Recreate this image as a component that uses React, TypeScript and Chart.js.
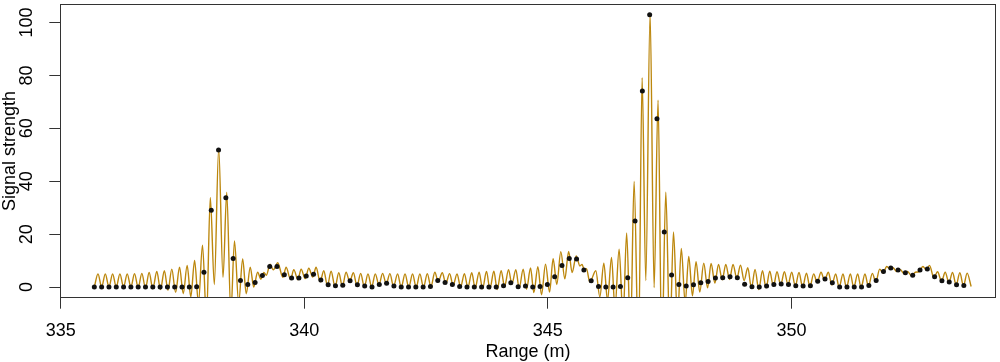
import React, { useEffect, useRef } from "react";
import { Chart, registerables } from "chart.js";

Chart.register(...registerables);

// Range bins (m): first bin and bin spacing
const rangeStart = 335.69;
const rangeStep = 0.15;

// Sampled signal strength, one value per range bin
const signalPoints: number[] = [
  0, 0, 0, 0, 0, 0, 0, 0, 0, 0, 0, 0, 0, 0, 0.1, 5.6, 29.0, 51.8, 33.8, 10.8,
  2.5, 1.0, 1.7, 4.4, 7.8, 7.8, 4.7, 3.4, 3.4, 4.2, 4.9, 2.7, 0.9, 0.5, 0.7, 2.4, 0.9, 0.4, 0, 1.0,
  1.5, 0.4, 0, 0, 0, 0, 0.2, 2.5, 1.7, 1.0, 0.2, 0, 0, 0, 0, 0, 0.5, 1.6, 0.1, 0.4,
  0, 0.2, 1.0, 3.9, 8.2, 10.8, 10.6, 6.5, 2.4, 0.2, 0, 0, 0.2, 3.5, 25.0, 74.1, 102.9, 63.6, 20.8, 4.6,
  1.0, 0.4, 0.9, 1.6, 2.1, 3.4, 3.5, 3.9, 3.5, 1.1, 0.1, 0, 0.4, 1.0, 1.2, 1.0, 0.5, 0.4, 0.5, 2.2,
  3.1, 1.6, 0, 0, 0, 0, 0.6, 2.5, 5.9, 7.2, 6.5, 5.4, 4.5, 6.5, 6.8, 3.9, 2.4, 1.9, 0.9, 0.6,
];

// Interpolated waveform: [position in bins, value] at its turning points
const curveExtrema: [number, number][] = [
  [0, 0], [0.5, 5.0], [1, 0], [1.5, 5.0], [2, 0], [2.5, 5.0], [3, 0], [3.5, 5.0], [4, 0], [4.5, 5.0],
  [5, 0], [5.5, 5.1], [6, -0.2], [6.5, 5.2], [7, -0.4], [7.5, 5.5], [8, -0.6], [8.55, 5.9], [9.05, -0.9],
  [9.58, 6.2], [10.08, -1.2], [10.6, 6.8], [11.12, -2.0], [11.66, 7.5], [12.17, -2.5], [12.7, 8.2],
  [13.2, -3.7], [13.72, 10.1], [14.25, -6], [14.8, 15.8], [15.35, -12], [15.87, 33.9], [16.42, 1.0],
  [17.02, 52.3], [17.61, 3.7], [18.12, 35.9], [18.68, -10], [19.18, 17.4], [19.75, -6], [20.3, 10.6],
  [20.79, -2.5], [21.34, 7.5], [21.81, 0], [22.35, 5.6],
  [22.8, 3.0], [23.2, 5.5], [23.55, 4.5], [24.05, 8.7], [24.5, 6.5], [25.1, 9.2], [25.8, 3.7],
  [26.25, 7.5], [26.85, 2.9], [27.3, 6.6], [27.85, 2.8], [28.3, 6.8], [28.85, 3.2], [29.35, 7.1],
  [29.9, 3.8], [30.35, 7.5], [30.9, 2.0], [31.4, 6.2], [31.9, 0.5], [32.4, 6.0], [32.95, 0.1],
  [33.45, 5.4], [33.95, 0.3], [34.45, 5.6], [34.95, 2.1], [35.45, 5.4], [35.95, 0.5], [36.45, 5.2],
  [36.95, 0.1], [37.45, 5.0],
  [37.95, 0], [38.45, 5.0], [38.95, 0.8], [39.45, 5.2], [39.95, 1.2], [40.45, 5.1], [40.95, 0.2],
  [41.5, 5.0], [42.0, -0.1], [42.52, 5.0], [43.03, -0.1], [43.55, 5.0], [44.05, -0.1], [44.55, 5.0],
  [45.05, -0.1], [45.57, 5.1], [46.06, 0.1], [46.6, 5.6], [47.06, 2.1], [47.62, 5.4], [48.1, 1.4],
  [48.62, 5.1], [49.1, 0.7], [49.64, 5.0], [50.12, 0], [50.65, 5.1], [51.12, -0.2], [51.65, 5.4],
  [52.12, -0.4], [52.66, 5.6], [53.13, -0.6], [53.67, 5.9], [54.13, -0.7], [54.68, 6.0], [55.13, -0.9],
  [55.68, 6.2], [56.14, 0.2], [56.69, 6.6], [57.14, 1.2], [57.69, 6.6], [58.14, -0.5], [58.69, 6.8],
  [59.15, -0.8], [59.7, 7.2], [60.15, -2.1], [60.7, 7.7], [61.2, -2.9], [61.75, 8.7], [62.3, -1.9],
  [62.79, 10.7], [63.29, 1.0], [63.84, 13.4], [64.39, 3.1], [64.91, 13.5], [65.39, 5.5], [65.95, 11.8],
  [66.45, 8.0], [66.75, 8.6], [67.05, 6.5], [67.35, 7.0], [67.81, 1.9], [68.63, 6.2], [69.18, -3.7],
  [69.73, 9.0], [70.23, -5], [70.78, 11.2], [71.25, -8], [71.82, 14.3], [72.36, -12], [72.85, 20.5],
  [73.38, -18], [73.87, 39.9], [74.47, -25], [74.97, 79.1], [75.47, 2.5], [76.06, 103.4], [76.61, -0.2],
  [77.15, 70.6], [77.66, -25], [78.21, 35.9], [78.76, -20], [79.26, 20.8], [79.81, -12], [80.33, 14.6],
  [80.86, -6], [81.35, 11.6], [81.86, -3.3], [82.35, 9.6], [82.86, -1.9], [83.4, 9.0],
  [83.93, -0.3], [84.41, 8.9], [84.93, 1.5], [85.42, 8.6], [85.93, 2.8], [86.42, 8.6], [86.93, 2.9],
  [87.41, 8.6], [87.93, 3.2], [88.43, 8.3], [88.93, 2.5], [89.43, 7.3], [89.93, -0.4], [90.42, 6.7],
  [90.93, -0.9], [91.44, 6.2], [91.93, -0.3], [92.44, 6.0], [92.93, 0.3], [93.43, 5.8], [93.93, 0.8],
  [94.44, 5.8], [94.93, 0.9], [95.44, 5.6], [95.93, 0.4], [96.44, 5.5], [96.93, 0], [97.46, 5.3],
  [97.93, 0.1], [98.45, 5.0], [98.93, 1.7], [99.45, 5.6], [99.93, 2.6], [100.46, 5.6], [100.93, 0.8],
  [101.46, 5.0], [101.93, -0.1], [102.46, 5.0], [102.93, -0.2], [103.47, 5.0], [103.93, -0.2],
  [104.47, 5.0], [104.93, -0.2], [105.47, 5.0], [105.93, 0.3], [106.48, 5.2], [106.95, 1.9],
  [107.48, 6.8], [107.95, 5.3], [108.45, 7.8], [108.9, 6.8], [109.3, 7.3], [109.8, 5.9], [110.3, 6.6],
  [110.85, 5.0], [111.3, 5.9], [111.85, 4.2], [112.35, 5.6], [112.85, 5.8], [113.4, 7.8], [113.85, 6.5],
  [114.3, 8.2], [114.9, 3.5], [115.4, 5.8], [115.95, 2.2], [116.45, 5.6], [116.95, 1.7], [117.45, 5.5],
  [117.95, 0.8], [118.45, 5.4], [118.95, 0.5], [119.45, 5.3], [120.0, 0.2],
];

const xTicks = [335, 340, 345, 350];
const yTicks = [0, 20, 40, 60, 80, 100];
const xLimits = [334.985, 354.2];
const yLimits = [-4.12, 107.0];

const FONT_FAMILY = "'Liberation Sans', Arial, Helvetica, sans-serif";
const AXIS_COLOR = "#333333";
const LINE_COLOR = "#BC870D";

export default function App() {
  const canvasRef = useRef<HTMLCanvasElement | null>(null);

  useEffect(() => {
    const canvas = canvasRef.current;
    if (!canvas) return;

    const pointData = signalPoints.map((v, i) => ({ x: rangeStart + i * rangeStep, y: v }));
    const curveData = curveExtrema.map(([b, v]) => ({ x: rangeStart + b * rangeStep, y: v }));

    const tickFont = { family: FONT_FAMILY, size: 18 };
    const titleFont = { family: FONT_FAMILY, size: 18, lineHeight: 1 };

    const boxPlugin = {
      id: "plotBox",
      afterDatasetsDraw(chart: any) {
        const { ctx, chartArea: a } = chart;
        ctx.save();
        ctx.strokeStyle = AXIS_COLOR;
        ctx.lineWidth = 1;
        const l = Math.round(a.left) + 0.5;
        const t = Math.round(a.top) + 0.5;
        const r = Math.round(a.right) - 0.5;
        const b = Math.round(a.bottom) - 0.5;
        ctx.strokeRect(l, t, r - l, b - t);
        ctx.restore();
      },
    };

    const chart = new Chart(canvas, {
      type: "line",
      data: {
        datasets: [
          {
            type: "scatter",
            data: pointData,
            pointRadius: 2.5,
            pointBackgroundColor: "#111111",
            pointBorderColor: "#111111",
            pointBorderWidth: 0,
            showLine: false,
            order: 0,
          } as any,
          {
            type: "line",
            data: curveData,
            borderColor: LINE_COLOR,
            borderWidth: 1.4,
            pointRadius: 0,
            cubicInterpolationMode: "monotone",
            fill: false,
            order: 1,
          } as any,
        ],
      },
      options: {
        responsive: false,
        animation: false,
        devicePixelRatio: 1,
        layout: { padding: { left: 0, right: 3, top: 0, bottom: 0 } },
        plugins: { legend: { display: false }, tooltip: { enabled: false } },
        scales: {
          x: {
            type: "linear",
            min: xLimits[0],
            max: xLimits[1],
            afterBuildTicks: (s: any) => {
              s.ticks = xTicks.map((v) => ({ value: v }));
            },
            afterFit: (s: any) => {
              s.height = 64;
              s.paddingLeft = 0;
              s.paddingRight = 0;
            },
            grid: {
              display: true,
              drawOnChartArea: false,
              drawTicks: true,
              tickLength: 10.7,
              color: AXIS_COLOR,
              lineWidth: 1,
            },
            border: { display: false },
            ticks: {
              font: tickFont,
              color: "#000",
              padding: 12,
              autoSkip: false,
              maxRotation: 0,
              minRotation: 0,
              callback: (v: any) => String(v),
            },
            title: {
              display: true,
              text: "Range (m)",
              font: titleFont,
              color: "#000",
              padding: { top: 0, bottom: 1 },
            },
          },
          y: {
            type: "linear",
            min: yLimits[0],
            max: yLimits[1],
            afterBuildTicks: (s: any) => {
              s.ticks = yTicks.map((v) => ({ value: v }));
            },
            afterFit: (s: any) => {
              s.width = 60;
              s.paddingTop = 0;
              s.paddingBottom = 0;
            },
            grid: {
              display: true,
              drawOnChartArea: false,
              drawTicks: true,
              tickLength: 10.7,
              color: AXIS_COLOR,
              lineWidth: 1,
            },
            border: { display: false },
            ticks: {
              font: tickFont,
              color: "#000",
              padding: 7,
              autoSkip: false,
              minRotation: 90,
              maxRotation: 90,
              crossAlign: "center",
              callback: (v: any) => String(v),
            },
            title: {
              display: true,
              text: "Signal strength",
              font: titleFont,
              color: "#000",
              padding: { top: 1, bottom: 0 },
            },
          },
        },
      } as any,
      plugins: [boxPlugin],
    });

    return () => chart.destroy();
  }, []);

  return (
    <div style={{ position: "absolute", left: 0, top: 0, width: 1000, height: 362, background: "#fff" }}>
      <canvas ref={canvasRef} width={1000} height={362} style={{ display: "block" }} />
    </div>
  );
}
